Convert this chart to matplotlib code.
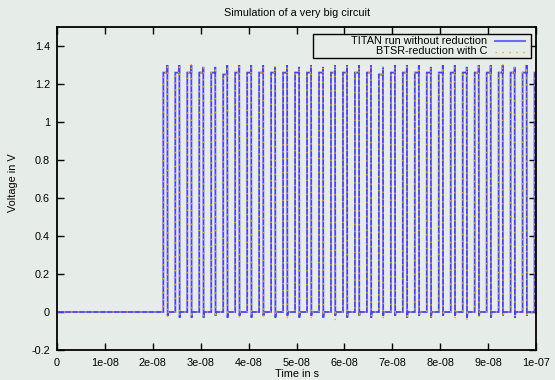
import matplotlib
matplotlib.use("Agg")
import matplotlib.pyplot as plt
import numpy as np
from matplotlib.patches import Rectangle
from matplotlib.lines import Line2D

# ---- data ----
pulse_starts = [2.22e-8, 2.47e-8, 2.72e-8, 2.97e-8, 3.22e-8, 3.47e-8, 3.72e-8, 3.97e-8,
                4.22e-8, 4.47e-8, 4.72e-8, 4.97e-8, 5.22e-8, 5.47e-8, 5.72e-8, 5.97e-8,
                6.22e-8, 6.47e-8, 6.72e-8, 6.97e-8, 7.22e-8, 7.47e-8, 7.72e-8, 7.97e-8,
                8.22e-8, 8.47e-8, 8.72e-8, 8.97e-8, 9.22e-8, 9.47e-8, 9.72e-8, 9.97e-8]
pulse_width = 0.9e-9
high_level_titan = [1.26, 1.26, 1.26, 1.26, 1.26, 1.25, 1.26, 1.26, 1.26, 1.26, 1.26, 1.26,
                    1.26, 1.26, 1.26, 1.26, 1.26, 1.26, 1.25, 1.26, 1.26, 1.26, 1.26, 1.26,
                    1.26, 1.26, 1.26, 1.26, 1.26, 1.26, 1.26, 1.26]
peak_titan = [1.30, 1.30, 1.30, 1.29, 1.29, 1.30, 1.30, 1.30, 1.30, 1.29, 1.30, 1.29,
              1.30, 1.29, 1.30, 1.30, 1.30, 1.30, 1.29, 1.30, 1.30, 1.30, 1.29, 1.30,
              1.30, 1.29, 1.30, 1.30, 1.30, 1.29, 1.30, 1.30]
under_titan = [-0.02, -0.03, -0.03, -0.03, -0.02, -0.03, -0.02, -0.03, -0.02, -0.03, -0.02, -0.03,
               -0.02, -0.03, -0.02, -0.03, -0.02, -0.03, -0.02, -0.02, -0.03, -0.02, -0.03, -0.02,
               -0.02, -0.03, -0.02, -0.03, -0.02, -0.03, -0.02, -0.02]
peak_btsr = [1.29, 1.29, 1.31, 1.29, 1.29, 1.28, 1.29, 1.29, 1.29, 1.30, 1.29, 1.29,
             1.29, 1.29, 1.30, 1.29, 1.29, 1.29, 1.30, 1.29, 1.29, 1.29, 1.29, 1.29,
             1.29, 1.29, 1.29, 1.29, 1.31, 1.29, 1.29, 1.29]
under_btsr = [-0.03, -0.02, -0.03, -0.02, -0.03, -0.02, -0.03, -0.02, -0.03, -0.02, -0.03, -0.02,
              -0.03, -0.02, -0.04, -0.02, -0.03, -0.02, -0.03, -0.02, -0.04, -0.02, -0.03, -0.02,
              -0.03, -0.04, -0.03, -0.02, -0.03, -0.02, -0.03, -0.02]
t_start, t_end = 0.0, 1.0e-7

x_ticks = [0, 1e-8, 2e-8, 3e-8, 4e-8, 5e-8, 6e-8, 7e-8, 8e-8, 9e-8, 1e-7]
x_ticklabels = ["0", "1e-08", "2e-08", "3e-08", "4e-08", "5e-08", "6e-08", "7e-08", "8e-08", "9e-08", "1e-07"]
y_ticks = [-0.2, 0, 0.2, 0.4, 0.6, 0.8, 1.0, 1.2, 1.4]
y_ticklabels = ["-0.2", "0", "0.2", "0.4", "0.6", "0.8", "1", "1.2", "1.4"]

title = "Simulation of a very big circuit"
xlabel = "Time in s"
ylabel = "Voltage in V"
label_titan = "TITAN run without reduction"
label_btsr = "BTSR-reduction with C"


def build_wave(starts, width, high, peak, under, t0, t1):
    eps = 0.06e-9
    t = [t0]
    v = [0.0]
    for s, h, p, u in zip(starts, high, peak, under):
        t += [s, s, s + width - eps, s + width - eps, s + width, s + width + 2 * eps]
        v += [0.0, h, h, p, u, 0.0]
    t.append(t1 + 2e-9)
    v.append(0.0)
    return np.array(t), np.array(v)


t_titan, v_titan = build_wave(pulse_starts, pulse_width, high_level_titan, peak_titan, under_titan, t_start, t_end)
t_btsr, v_btsr = build_wave(pulse_starts, pulse_width, high_level_titan, peak_btsr, under_btsr, t_start, t_end)

bg = "#e6ede9"
fs = 7.8
plt.rcParams["font.family"] = ["Liberation Sans", "DejaVu Sans"]
plt.rcParams["font.size"] = fs

fig = plt.figure(figsize=(5.55, 3.80), dpi=100, facecolor=bg)
ax = fig.add_axes([57 / 555, 1 - 350 / 380, (536 - 57) / 555, (350 - 27) / 380])
ax.set_facecolor(bg)

blue = "#4444ff"
orange = "#ffa500"
ax.plot(t_titan, v_titan, color=blue, lw=1.3, solid_joinstyle="miter")
ax.plot(t_btsr, v_btsr, color=orange, lw=1.0, linestyle=(0, (1, 4)))

ax.set_xlim(t_start, t_end)
ax.set_ylim(-0.2, 1.5)
ax.set_xticks(x_ticks)
ax.set_xticklabels(x_ticklabels)
ax.set_yticks(y_ticks)
ax.set_yticklabels(y_ticklabels)
ax.tick_params(direction="in", length=5, width=1, top=True, right=True,
               labelsize=fs, colors="black", pad=6)
ax.tick_params(axis="y", pad=5)
for sp in ax.spines.values():
    sp.set_linewidth(1.3)
    sp.set_color("black")

fig.text(297 / 555, 1 - 12.5 / 380, title, ha="center", va="center", fontsize=fs)
fig.text(297 / 555, 1 - 374 / 380, xlabel, ha="center", va="center", fontsize=fs)
fig.text(13 / 555, 1 - 183 / 380, ylabel, ha="center", va="center", rotation=90, fontsize=fs)

# legend drawn manually (gnuplot style: text right-aligned, sample on right)
box = Rectangle((313 / 555, 1 - 58 / 380), (531 - 313) / 555, (58 - 34.5) / 380,
                transform=fig.transFigure, facecolor=bg, edgecolor="black", lw=1.0, zorder=5)
fig.patches.append(box)
fig.text(487 / 555, 1 - 41 / 380, label_titan, ha="right", va="center", fontsize=fs, zorder=6)
fig.text(487 / 555, 1 - 51.5 / 380, label_btsr, ha="right", va="center", fontsize=fs, zorder=6)
fig.lines.append(Line2D([495 / 555, 525 / 555], [1 - 41 / 380, 1 - 41 / 380], transform=fig.transFigure,
                        color="#6a6aff", lw=1.5, zorder=6))
fig.lines.append(Line2D([495 / 555, 525 / 555], [1 - 51.5 / 380, 1 - 51.5 / 380], transform=fig.transFigure,
                        color=orange, lw=1.0, linestyle=(0, (1, 4)), zorder=6))

fig.savefig("out.png", dpi=100, facecolor=bg)
